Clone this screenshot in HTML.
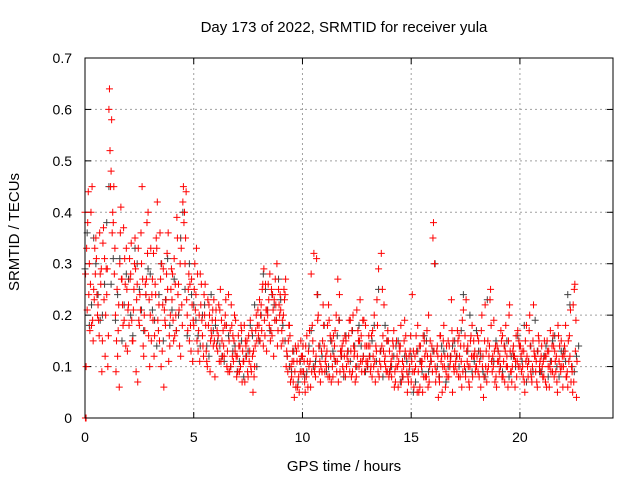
<!DOCTYPE html>
<html><head><meta charset="utf-8"><style>
body{margin:0;background:#fff}
svg{display:block;font-family:"Liberation Sans",sans-serif}
</style></head><body>
<svg id="chart" width="640" height="480">
<text x="344" y="32" font-size="15" text-anchor="middle">Day 173 of 2022, SRMTID for receiver yula</text>
<text x="344" y="471" font-size="15" text-anchor="middle">GPS time / hours</text>
<text transform="translate(19,232) rotate(-90)" font-size="15" text-anchor="middle">SRMTID / TECUs</text>
<g id="grid"></g>
<g id="axes"></g>
<g id="marks"></g>
<rect x="85" y="58" width="528" height="360" fill="none" stroke="#000" stroke-width="1"/>
</svg>
<script>
const xTicks=[0,5,10,15,20];
const yTicks=[0,0.1,0.2,0.3,0.4,0.5,0.6,0.7];
const yTickLabels=["0","0.1","0.2","0.3","0.4","0.5","0.6","0.7"];
const redAStart=0, redAStep=0.1;
const redA=[.40,.21,.30,.18,.25,.35,.22,.28,.15,.31,
.24,.60,.48,.38,.20,.12,.30,.27,.19,.33,
.22,.28,.15,.35,.26,.18,.30,.12,.24,.40,
.20,.27,.16,.33,.22,.10,.29,.18,.25,.14,
.23,.31,.17,.26,.12,.42,.30,.20,.15,.27,
.18,.24,.13,.28,.16,.20,.11,.22,.17,.14,
.19,.13,.21,.15,.12,.18,.24,.10,.16,.13,
.12,.09,.17,.11,.14,.08,.19,.12,.10,.15,
.18,.22,.14,.26,.20,.28,.16,.23,.19,.25,
.21,.15,.24,.12,.18,.08,.11,.06,.14,.09,
.12,.07,.16,.10,.28,.13,.08,.19,.11,.09,
.14,.10,.22,.12,.08,.17,.11,.24,.13,.09,
.15,.11,.19,.09,.13,.21,.10,.16,.12,.18,
.11,.14,.08,.20,.13,.29,.10,.16,.12,.09,
.13,.08,.17,.10,.06,.14,.11,.19,.09,.12,
.07,.13,.10,.18,.06,.11,.15,.08,.20,.12,
.35,.10,.14,.07,.12,.18,.09,.15,.11,.05,
.13,.09,.16,.11,.21,.08,.14,.10,.18,.12,
.10,.15,.06,.12,.22,.09,.14,.11,.19,.08,
.13,.10,.16,.07,.12,.20,.09,.14,.11,.17,
.10,.13,.07,.18,.11,.09,.15,.12,.06,.10,
.14,.08,.12,.10,.17,.09,.13,.07,.11,.15,
.10,.18,.06,.12,.09,.25,.04];
const redBStart=0.05, redBStep=0.1;
const redB=[.10,.44,.26,.19,.33,.24,.16,.29,.37,.20,
.10,.52,.36,.28,.15,.22,.41,.18,.26,.13,
.31,.19,.25,.09,.33,.21,.27,.17,.38,.23,
.15,.32,.24,.19,.36,.13,.21,.28,.11,.25,
.19,.26,.35,.14,.22,.38,.44,.25,.18,.11,
.30,.15,.20,.26,.12,.18,.23,.09,.19,.15,
.14,.22,.11,.17,.20,.13,.09,.18,.15,.12,
.16,.10,.13,.07,.15,.11,.09,.13,.17,.21,
.15,.25,.19,.13,.23,.17,.21,.27,.14,.20,
.17,.25,.10,.15,.07,.13,.09,.11,.05,.12,
.09,.14,.06,.11,.18,.09,.31,.14,.10,.22,
.11,.18,.08,.15,.12,.20,.07,.13,.10,.16,
.12,.19,.08,.14,.10,.17,.23,.11,.09,.14,
.16,.10,.12,.07,.18,.11,.14,.22,.09,.15,
.10,.15,.09,.12,.14,.07,.10,.16,.08,.13,
.24,.09,.13,.05,.11,.16,.08,.12,.10,.14,
.13,.09,.04,.16,.10,.12,.08,.14,.23,.10,
.11,.15,.08,.19,.10,.13,.07,.16,.12,.09,
.16,.11,.20,.08,.13,.10,.25,.12,.07,.14,
.09,.15,.11,.18,.06,.13,.10,.12,.08,.15,
.12,.08,.15,.10,.20,.07,.13,.11,.16,.09,
.08,.12,.15,.06,.11,.14,.09,.18,.10,.12,
.14,.08,.11,.07,.22,.13];
const redCStart=0.025, redCStep=0.1;
const redC=[.28,.38,.17,.45,.23,.31,.19,.26,.34,.12,
.29,.64,.58,.45,.09,.17,.36,.22,.31,.25,
.18,.34,.21,.29,.07,.24,.45,.20,.27,.16,
.33,.19,.26,.42,.15,.30,.06,.23,.36,.20,
.28,.16,.39,.21,.33,.45,.35,.17,.26,.22,
.25,.33,.17,.22,.14,.26,.10,.20,.16,.23,
.21,.16,.25,.12,.18,.10,.15,.22,.11,.19,
.09,.14,.07,.18,.12,.16,.10,.05,.14,.18,
.23,.17,.29,.21,.26,.15,.24,.19,.30,.22,
.14,.20,.27,.09,.16,.11,.04,.13,.08,.15,
.14,.05,.11,.17,.09,.32,.12,.20,.07,.15,
.09,.13,.19,.07,.16,.11,.27,.09,.14,.12,
.10,.16,.13,.20,.07,.12,.15,.09,.19,.11,
.14,.09,.17,.11,.23,.08,.32,.13,.10,.17,
.09,.12,.06,.15,.11,.18,.08,.13,.05,.10,
.11,.06,.16,.09,.14,.05,.12,.17,.07,.11,
.38,.07,.12,.16,.05,.10,.14,.08,.12,.15,
.10,.17,.12,.06,.14,.23,.10,.15,.08,.13,
.12,.08,.17,.04,.10,.15,.23,.09,.13,.06,
.11,.17,.08,.13,.10,.22,.07,.12,.16,.10,
.14,.10,.05,.12,.17,.08,.22,.09,.13,.11,
.10,.15,.06,.13,.09,.16,.11,.05,.14,.10,
.12,.08,.15,.21,.05,.26,.11];
const redDStart=0.075, redDStep=0.1;
const redD=[.33,.24,.40,.15,.28,.20,.36,.09,.23,.29,
.16,.45,.40,.33,.25,.06,.27,.37,.14,.21,
.27,.15,.30,.23,.19,.36,.14,.26,.32,.10,
.24,.12,.35,.17,.27,.22,.19,.32,.16,.29,
.15,.20,.24,.30,.18,.40,.23,.28,.13,.19,
.21,.28,.11,.19,.24,.13,.18,.15,.21,.08,
.17,.11,.19,.14,.23,.09,.17,.12,.20,.08,
.14,.18,.11,.15,.09,.13,.17,.08,.20,.16,
.20,.26,.16,.21,.18,.25,.12,.22,.17,.24,
.19,.23,.13,.18,.10,.07,.14,.06,.11,.09,
.11,.08,.13,.06,.15,.10,.24,.09,.13,.18,
.12,.08,.16,.10,.14,.09,.19,.12,.15,.08,
.13,.09,.17,.12,.08,.15,.11,.19,.14,.10,
.12,.16,.10,.14,.09,.13,.25,.11,.15,.08,
.11,.14,.07,.10,.13,.09,.15,.12,.07,.16,
.09,.12,.05,.14,.10,.08,.13,.06,.15,.09,
.30,.13,.08,.11,.15,.06,.12,.10,.17,.09,
.12,.08,.14,.09,.16,.11,.06,.12,.15,.10,
.09,.13,.10,.15,.07,.12,.18,.10,.14,.11,
.12,.08,.14,.10,.15,.09,.13,.06,.11,.14,
.09,.13,.11,.08,.14,.10,.12,.07,.15,.12,
.11,.07,.13,.10,.14,.08,.12,.16,.09,.06,
.13,.09,.16,.10,.07,.19];
const redExtraTimes=[0.02,0.05];
const redExtraValues=[0,0];
const blackStart=0.1, blackStep=0.2;
const black=[.36,.22,.30,.19,.26,.45,.31,.24,.15,.28,.20,.33,.25,.17,.29,
.21,.14,.30,.23,.18,.27,.20,.40,.16,.24,.19,.14,.22,.12,.17,
.15,.12,.18,.10,.14,.11,.08,.13,.16,.10,.20,.25,.17,.22,.27,
.18,.12,.09,.06,.11,.08,.14,.10,.24,.12,.09,.15,.11,.19,.08,
.13,.17,.10,.14,.09,.12,.18,.25,.08,.15,.10,.14,.07,.12,.09,
.05,.13,.09,.15,.11,.30,.08,.13,.10,.14,.12,.17,.09,.20,.11,
.13,.09,.23,.11,.15,.10,.14,.08,.12,.16,.11,.07,.14,.19,.09,
.12,.08,.15,.10,.13,.11,.22,.09,.14];
const black2Start=0.0, black2Step=0.2;
const black2=[.29,.18,.35,.24,.20,.38,.26,.19,.31,.22,.27,.16,.30,.21,.24,
.28,.19,.24,.15,.31,.21,.17,.35,.25,.30,.22,.16,.20,.14,.24,
.18,.14,.11,.16,.13,.09,.15,.12,.18,.22,.15,.28,.21,.24,.19,
.23,.15,.10,.13,.07,.12,.09,.17,.11,.14,.18,.10,.13,.16,.12,
.16,.11,.14,.18,.12,.10,.15,.11,.13,.18,.09,.12,.15,.08,.11,
.12,.07,.11,.16,.09,.13,.10,.14,.07,.12,.15,.10,.24,.13,.09,
.17,.12,.08,.14,.11,.13,.09,.15,.12,.10,.14,.18,.11,.09,.13,
.09,.14,.11,.16,.08,.13,.24,.10,.12];

const L=85,R=613,T=58,B=418,XMAX=24.28,YMAX=0.7;
const sx=v=>L+v/XMAX*(R-L);
const sy=v=>B-v/YMAX*(B-T);
const NS="http://www.w3.org/2000/svg";
const grid=document.getElementById('grid'),axes=document.getElementById('axes'),marks=document.getElementById('marks');
function mk(tag,attrs,parent){const e=document.createElementNS(NS,tag);for(const k in attrs)e.setAttribute(k,attrs[k]);parent.appendChild(e);return e;}
xTicks.forEach(t=>{
  const x=sx(t);
  if(t>0){const g=mk('line',{x1:x,x2:x,y1:T,y2:B,stroke:'#a0a0a0','stroke-dasharray':'2,3'},grid);
  
  }
  mk('line',{x1:x,x2:x,y1:B,y2:B-6,stroke:'#000'},axes);
  mk('line',{x1:x,x2:x,y1:T,y2:T+6,stroke:'#000'},axes);
  const lb=mk('text',{x:x,y:B+24,'font-size':14,'text-anchor':'middle'},axes);
  lb.textContent=String(t);
  
  
});
yTicks.forEach((t,i)=>{
  const y=sy(t);
  if(t>0&&t<YMAX){const g=mk('line',{x1:L,x2:R,y1:y,y2:y,stroke:'#a0a0a0','stroke-dasharray':'2,3'},grid);
  
  }
  mk('line',{x1:L,x2:L+6,y1:y,y2:y,stroke:'#000'},axes);
  mk('line',{x1:R,x2:R-6,y1:y,y2:y,stroke:'#000'},axes);
  const lb=mk('text',{x:L-13,y:y+5,'font-size':14,'text-anchor':'end'},axes);
  lb.textContent=yTickLabels[i];
  
  
});
function plus(t,v,color,name){
  const x=sx(t),y=sy(v);
  const p=mk('path',{d:`M${x-3.5},${y}h7M${x},${y-3.5}v7`,stroke:color,'stroke-width':1,fill:'none'},marks);
  
  
}
black.forEach((v,i)=>plus(blackStart+i*blackStep,v,'#404040','point-black'));
black2.forEach((v,i)=>plus(black2Start+i*black2Step,v,'#404040','point-black'));
redA.forEach((v,i)=>plus(redAStart+i*redAStep,v,'#ff0000','point-red'));
redB.forEach((v,i)=>plus(redBStart+i*redBStep,v,'#ff0000','point-red'));
redC.forEach((v,i)=>plus(redCStart+i*redCStep,v,'#ff0000','point-red'));
redD.forEach((v,i)=>plus(redDStart+i*redDStep,v,'#ff0000','point-red'));
redExtraTimes.forEach((t,i)=>plus(t,redExtraValues[i],'#ff0000','point-red'));
</script>
</body></html>
